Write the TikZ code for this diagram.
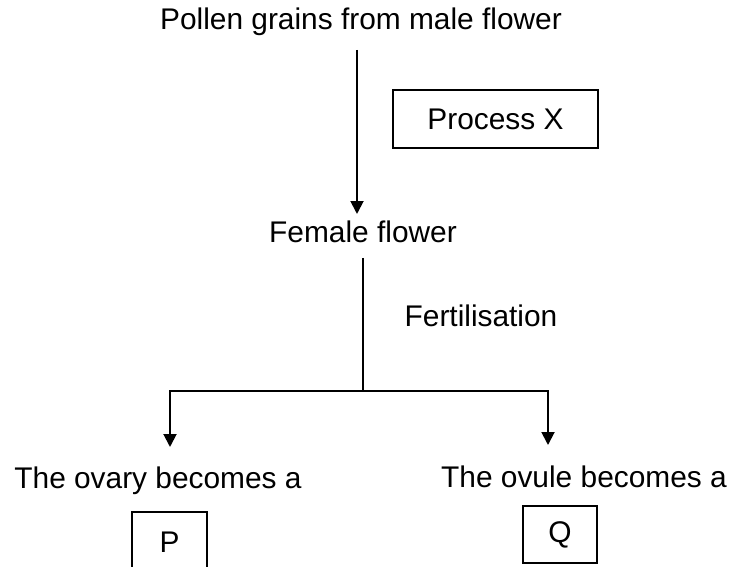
\documentclass[tikz,border=0pt]{standalone}
\usepackage{fontspec}
\setmainfont{Liberation Sans}
\usetikzlibrary{arrows.meta,positioning}
\tikzset{
  caption/.style={font=\fontsize{17}{20}\selectfont, inner sep=1pt},
  tagbox/.style={draw, line width=1pt, font=\fontsize{17}{20}\selectfont, inner sep=0pt},
  link/.style={line width=1.1pt},
  flow/.style={link, -{Triangle[length=2.6mm,width=2.6mm]}}
}
\begin{document}
\begin{tikzpicture}[x=0.02cm,y=-0.02cm]
    \useasboundingbox (0,0) rectangle (733,567);

    % texts
    \node[caption] (pollen) at (361,22) {Pollen grains from male flower};
    \node[caption] (female) at (363,232) {Female flower};
    \node[caption] (fert) at (481,316) {Fertilisation};
    \node[caption] (ovary) at (158,481) {The ovary becomes a};
    \node[caption] (ovule) at (584,477) {The ovule becomes a};

    % boxes
    \node[tagbox, minimum width=4.1cm, minimum height=1.16cm] (procx) at (495.5,119) {Process X};
    \node[tagbox, minimum width=1.5cm, minimum height=1.2cm] (boxp) at (169.5,542) {P};
    \node[tagbox, minimum width=1.48cm, minimum height=1.14cm] (boxq) at (560,534.5) {Q};

    % connectors
    \coordinate (pollen drop) at (357,50);
    \coordinate (pollen land) at (357,214);
    \coordinate (female drop) at (363,258);
    \coordinate (split) at (363,391);
    \coordinate (left turn) at (170,391);
    \coordinate (right turn) at (548,391);
    \coordinate (left land) at (170,447);
    \coordinate (right land) at (548,445);

    \draw[flow] (pollen drop) -- (pollen land);
    \draw[link] (female drop) -- (split);
    \draw[flow] (split) -- (left turn) -- (left land);
    \draw[flow] (split) -- (right turn) -- (right land);
\end{tikzpicture}
\end{document}
